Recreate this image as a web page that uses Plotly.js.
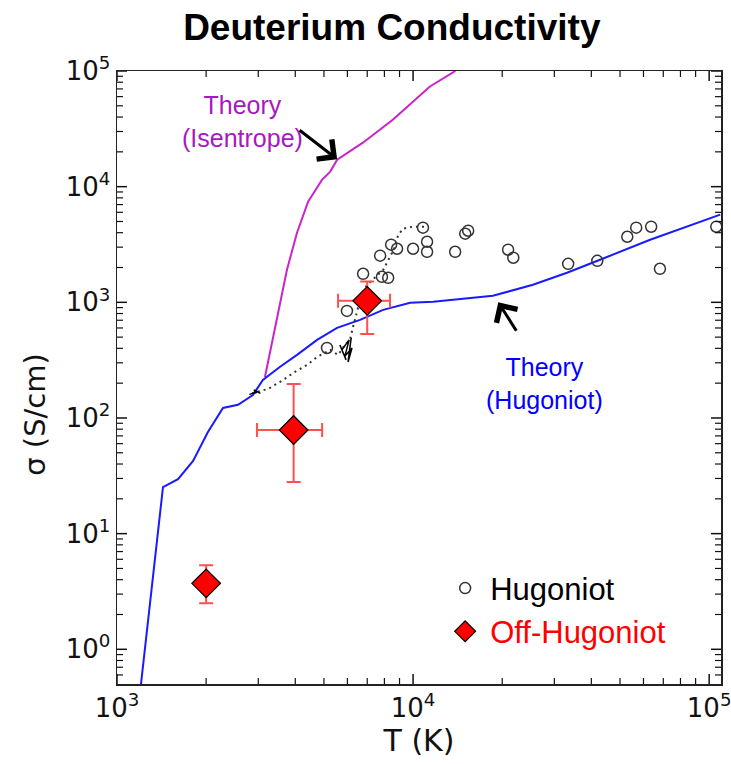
<!DOCTYPE html>
<html>
<head>
<meta charset="utf-8">
<script src="https://cdn.plot.ly/plotly-3.0.1.min.js"></script>
<style>html,body{margin:0;padding:0;background:#fff;}</style>
</head>
<body>
<div id="chart" style="width:731px;height:764px;"></div>
<script>
// Theory (Hugoniot) curve
const hugTheoryT = [1205, 1430, 1607, 1807, 2028, 2280, 2563, 2878, 3110, 3556, 4055, 4740, 5536, 6620, 7925, 9770, 11700, 18600, 25400, 33100, 42800, 63200, 109000];
const hugTheoryS = [0.5, 25.3, 29.6, 42.5, 75.7, 122, 130, 158, 213, 277, 351, 473, 601, 705, 861, 991, 1010, 1138, 1419, 1800, 2335, 3475, 5730];

// Theory (Isentrope) curve
const isenT = [3160, 3473, 3750, 4055, 4383, 4420, 4700, 4930, 5250, 5540, 6770, 8560, 11400, 13900];
const isenS = [226, 705, 1910, 4000, 6980, 7410, 9500, 11500, 13500, 17100, 24000, 38000, 73500, 100000];

// Hugoniot experimental points (open circles)
const hugT = [10800, 8430, 8830, 10000, 11150, 11150, 13870, 7740, 6780, 7850, 8240, 5980, 5120, 15350, 15000, 20940, 21800, 33400, 41900, 52900, 56700, 63700, 68200, 105700];
const hugS = [4420, 3150, 2905, 2905, 3340, 2735, 2735, 2530, 1765, 1663, 1630, 843, 403, 4160, 3920, 2850, 2430, 2150, 2285, 3690, 4420, 4505, 1950, 4505];

// Dotted Hugoniot trajectory
const dotT = [2857, 3236, 3640, 3935, 4385, 4740, 5250, 5580, 5890, 6120, 6270, 6510, 6720, 7000, 7450, 7930, 8360, 8690, 8890, 9240, 10000, 10810, 11320];
const dotS = [164, 178, 213, 245, 288, 337, 388, 351, 428, 473, 614, 861, 1208, 1418, 1630, 1910, 2475, 3025, 3770, 4330, 4510, 4510, 4510];

// Jagged solid segments
const jagT = [2800, 2950, 2900, 3050, null, 5660, 5940, 5750, 6080, 5890, 6220, 6030, 6180];
const jagS = [160, 166, 175, 163, null, 428, 318, 388, 473, 344, 403, 305, 493];

// Off-Hugoniot points with error bars
const offT = [2000, 3950, 7000];
const offS = [3.72, 78.7, 1030];
const offSPlus = [1.61, 118, 480];
const offSMinus = [1.22, 50.8, 497];
const offTPlus = [0, 980, 1360];
const offTMinus = [0, 980, 1420];

const tickVals = [1, 10, 100, 1000, 10000, 100000];
const tickText = ['10<sup>0</sup>', '10<sup>1</sup>', '10<sup>2</sup>', '10<sup>3</sup>', '10<sup>4</sup>', '10<sup>5</sup>'];

const xRange = [3, 5.04];
const yRange = [-0.3, 5];

// tick marks drawn as shapes (inside, on all four sides); shapes take data values
const PLOT_W = 604, PLOT_H = 613;
const shapes = [];
function addXTick(v, len, w) {
  const lx = Math.log10(v);
  if (lx < xRange[0] - 1e-9 || lx > xRange[1] + 1e-9) return;
  const f = len / PLOT_H;
  shapes.push({type: 'line', layer: 'above', xref: 'x', yref: 'paper', x0: v, x1: v, y0: 0, y1: f, line: {color: '#111', width: w}});
  shapes.push({type: 'line', layer: 'above', xref: 'x', yref: 'paper', x0: v, x1: v, y0: 1, y1: 1 - f, line: {color: '#111', width: w}});
}
function addYTick(v, len, w) {
  const ly = Math.log10(v);
  if (ly < yRange[0] - 1e-9 || ly > yRange[1] + 1e-9) return;
  const f = len / PLOT_W;
  shapes.push({type: 'line', layer: 'above', xref: 'paper', yref: 'y', x0: 0, x1: f, y0: v, y1: v, line: {color: '#111', width: w}});
  shapes.push({type: 'line', layer: 'above', xref: 'paper', yref: 'y', x0: 1, x1: 1 - f, y0: v, y1: v, line: {color: '#111', width: w}});
}
for (let e = -1; e <= 5; e++) {
  const base = Math.pow(10, e);
  addXTick(base, 10, 1.5);
  addYTick(base, 10, 1.5);
  for (let k = 2; k <= 9; k++) {
    addXTick(k * base, 6, 1.2);
    addYTick(k * base, 6, 1.2);
  }
}

const traces = [
  {x: isenT, y: isenS, mode: 'lines', line: {color: '#cc22cc', width: 2}, showlegend: false, hoverinfo: 'skip'},
  {x: hugTheoryT, y: hugTheoryS, mode: 'lines', line: {color: '#1a1aff', width: 2}, showlegend: false, hoverinfo: 'skip'},
  {x: dotT, y: dotS, mode: 'lines', line: {color: '#333', width: 2, dash: '2px,4px'}, showlegend: false, hoverinfo: 'skip'},
  {x: jagT, y: jagS, mode: 'lines', line: {color: '#000', width: 1.5}, showlegend: false, connectgaps: false, hoverinfo: 'skip'},
  {x: hugT, y: hugS, mode: 'markers', name: 'Hugoniot',
   marker: {symbol: 'circle-open', size: 11, color: '#333', line: {width: 1.5, color: '#333'}}},
  {x: offT, y: offS, mode: 'markers', name: '<span style="color:#ff0000">Off-Hugoniot</span>',
   marker: {symbol: 'diamond', size: 22, color: '#ff0000', line: {width: 1.2, color: '#000'}},
   error_y: {type: 'data', symmetric: false, array: offSPlus, arrayminus: offSMinus, color: '#ff5050', thickness: 2, width: 7},
   error_x: {type: 'data', symmetric: false, array: offTPlus, arrayminus: offTMinus, color: '#ff5050', thickness: 2, width: 7}}
];

const axisCommon = {
  type: 'log', showgrid: false, zeroline: false,
  showline: true, linecolor: '#222', linewidth: 1.5, mirror: true,
  tickmode: 'array', tickvals: tickVals, ticktext: tickText,
  ticks: '',
  ticklabeloverflow: 'allow',
  tickfont: {family: 'DejaVu Sans', size: 26, color: '#111'}
};

const layout = {
  width: 731, height: 764,
  margin: {l: 117, r: 10, t: 71, b: 80},
  paper_bgcolor: '#fff', plot_bgcolor: '#fff',
  title: {text: '<b>Deuterium Conductivity</b>', font: {family: 'Liberation Sans', size: 37, color: '#000'},
          x: 0.455, xref: 'paper', xanchor: 'center', y: 0.965, yanchor: 'middle'},
  xaxis: Object.assign({}, axisCommon, {
    range: xRange,
    title: {text: 'T (K)', font: {family: 'DejaVu Sans', size: 30, color: '#111'}, standoff: 4}
  }),
  yaxis: Object.assign({}, axisCommon, {
    range: yRange
  }),
  shapes: shapes,
  showlegend: true,
  legend: {x: 0.535, y: 0.2, xanchor: 'left', yanchor: 'top', bgcolor: 'rgba(0,0,0,0)',
           font: {family: 'Liberation Sans', size: 31, color: '#000'}, tracegroupgap: 0, itemwidth: 40},
  annotations: [
    {xref: 'paper', yref: 'paper', x: -0.135, y: 0.44, text: 'σ (S/cm)', textangle: -90, showarrow: false,
     xanchor: 'center', yanchor: 'middle', font: {family: 'DejaVu Sans', size: 29, color: '#111'}},
    {xref: 'paper', yref: 'paper', x: 0.2086, y: 0.917, text: 'Theory<br>(Isentrope)', showarrow: false,
     xanchor: 'center', yanchor: 'middle',
     font: {family: 'Liberation Sans', size: 25, color: '#a818c0'}, align: 'center'},
    {xref: 'paper', yref: 'paper', x: 0.7086, y: 0.491, text: 'Theory<br>(Hugoniot)', showarrow: false,
     xanchor: 'center', yanchor: 'middle',
     font: {family: 'Liberation Sans', size: 25, color: '#0000ff'}, align: 'center'},
    {xref: 'x', yref: 'y', x: Math.log10(5540), y: Math.log10(17300), ax: -39, ay: -30, text: '', showarrow: true,
     arrowhead: 4, arrowsize: 1.6, arrowwidth: 3, arrowcolor: '#000'},
    {xref: 'x', yref: 'y', x: Math.log10(19400), y: Math.log10(1000), ax: 19, ay: 30, text: '', showarrow: true,
     arrowhead: 4, arrowsize: 1.6, arrowwidth: 3, arrowcolor: '#000'}
  ]
};

Plotly.newPlot('chart', traces, layout, {displayModeBar: false, staticPlot: true});
</script>
</body>
</html>
